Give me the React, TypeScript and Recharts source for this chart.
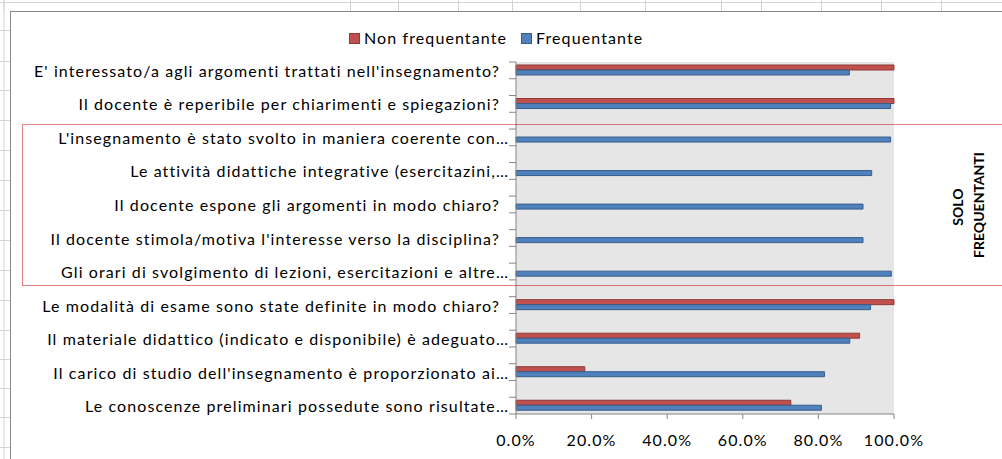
import { Bar, BarChart, CartesianGrid, XAxis, YAxis } from "recharts";

const questions = [
  "E' interessato/a agli argomenti trattati nell'insegnamento?",
  "Il docente è reperibile per chiarimenti e spiegazioni?",
  "L'insegnamento è stato svolto in maniera coerente con…",
  "Le attività didattiche integrative (esercitazini,…",
  "Il docente espone gli argomenti in modo chiaro?",
  "Il docente stimola/motiva l'interesse verso la disciplina?",
  "Gli orari di svolgimento di lezioni, esercitazioni e altre…",
  "Le modalità di esame sono state definite in modo chiaro?",
  "Il materiale didattico (indicato e disponibile) è adeguato…",
  "Il carico di studio dell'insegnamento è proporzionato ai…",
  "Le conoscenze preliminari possedute sono risultate…",
];

// null = domanda posta solo ai frequentanti
const nonFrequentante = [1, 1, null, null, null, null, null, 1, 0.909, 0.182, 0.727];
const frequentante = [0.882, 0.991, 0.991, 0.941, 0.918, 0.918, 0.993, 0.938, 0.883, 0.816, 0.808];

const xTicks = [0, 0.2, 0.4, 0.6, 0.8, 1];

const seriesNames = ["Non frequentante", "Frequentante"];
const seriesColors = ["#c0504d", "#4f81bd"];
const seriesStrokes = ["#8e3a37", "#385d8a"];

// Excel sheet has an empty row between each question
const rows: { key: string; label: string; nf: number | null; f: number | null }[] = [];
questions.forEach((q, i) => {
  rows.push({ key: `q${i}`, label: q, nf: nonFrequentante[i], f: frequentante[i] });
  if (i < questions.length - 1) rows.push({ key: `gap${i}`, label: "", nf: null, f: null });
});

const W = 1002;
const H = 459;
const X_H = 45;
const M = { top: 62, right: 108, bottom: 0, left: 0 };
const Y_W = 516;
const band = (H - M.top - M.bottom - X_H) / rows.length;
const AXIS = "#868686";
const SPACING = "1.1px";

const sheetCols = [4, 350.5, 398.5, 458.5, 512.5, 580.5, 645.5, 721.5, 761.5, 821.5, 881.5, 941.5];
const sheetRows = [2.5, 30.5, 61.5, 90.5, 120.5, 150.5, 180.5, 210.5, 240.5, 270.5, 300.5, 330.5, 359.5, 388.5, 417.5, 447.5];

function QuestionTick(props: any) {
  const { x, y, payload, index } = props;
  const row = rows.find((r) => r.key === payload.value);
  const label = row ? row.label : "";
  const last = index === rows.length - 1;
  return (
    <g>
      <line x1={x - 7} x2={x} y1={y - band / 2} y2={y - band / 2} stroke={AXIS} />
      {last && <line x1={x - 7} x2={x} y1={y + band / 2} y2={y + band / 2} stroke={AXIS} />}
      {label && (
        <text
          x={x - (label.endsWith("…") ? 7 : 16)}
          y={y}
          textAnchor="end"
          dominantBaseline="central"
          fontSize={16}
          letterSpacing={SPACING}
          fill="#000"
        >
          {label}
        </text>
      )}
    </g>
  );
}

export default function App() {
  return (
    <div
      style={{
        position: "absolute",
        left: 0,
        top: 0,
        width: W,
        height: H,
        overflow: "hidden",
        background: "#fff",
        fontFamily: "Lato, sans-serif",
      }}
    >
      <svg width={W} height={H} style={{ position: "absolute", left: 0, top: 0 }}>
        {sheetCols.map((cx) => (
          <line key={`c${cx}`} x1={cx} x2={cx} y1={0} y2={11} stroke="#d4d4d4" />
        ))}
        <line x1={4} x2={4} y1={0} y2={H} stroke="#d4d4d4" />
        {sheetRows.map((ry) => (
          <line key={`r${ry}`} x1={0} x2={10} y1={ry} y2={ry} stroke="#d4d4d4" />
        ))}
        <line x1={0} x2={W} y1={2.5} y2={2.5} stroke="#d4d4d4" />
        <rect x={10.5} y={11.5} width={W} height={H} fill="#fff" stroke="#888" />
      </svg>

      <div style={{ position: "absolute", left: 0, top: 0 }}>
        <BarChart
          width={W}
          height={H}
          data={rows}
          layout="vertical"
          margin={M}
          barSize={5}
          barGap={0}
        >
          <CartesianGrid fill="#e6e6e6" horizontal={false} vertical={false} />
          <XAxis
            type="number"
            domain={[0, 1]}
            ticks={xTicks}
            tickFormatter={(v: number) => `${(v * 100).toFixed(1)}%`}
            axisLine={{ stroke: AXIS }}
            tickLine={{ stroke: AXIS }}
            tickSize={5}
            tickMargin={16}
            tick={{ fill: "#000", fontSize: 16, letterSpacing: SPACING }}
            height={X_H}
          />
          <XAxis
            xAxisId="top"
            orientation="top"
            type="number"
            domain={[0, 1]}
            tick={false}
            tickLine={false}
            axisLine={{ stroke: AXIS }}
            height={0}
          />
          <YAxis
            type="category"
            dataKey="key"
            width={Y_W}
            interval={0}
            tickLine={false}
            tickSize={0}
            tickMargin={0}
            axisLine={{ stroke: AXIS }}
            tick={<QuestionTick />}
          />
          <YAxis
            yAxisId="right"
            orientation="right"
            type="category"
            dataKey="key"
            width={0}
            tick={false}
            tickLine={false}
            axisLine={{ stroke: AXIS }}
          />
          <Bar
            dataKey="nf"
            name={seriesNames[0]}
            fill={seriesColors[0]}
            stroke={seriesStrokes[0]}
            isAnimationActive={false}
          />
          <Bar
            dataKey="f"
            name={seriesNames[1]}
            fill={seriesColors[1]}
            stroke={seriesStrokes[1]}
            isAnimationActive={false}
          />
        </BarChart>
      </div>

      <svg
        width={W}
        height={H}
        style={{ position: "absolute", left: 0, top: 0, pointerEvents: "none" }}
      >
        <rect
          x={22.5}
          y={124.5}
          width={1000}
          height={161}
          fill="none"
          stroke="#c00000"
          strokeDasharray="1 1"
        />
        <g fontWeight="bold" fontSize={14} fill="#000" textAnchor="middle">
          <text x={957.5} y={207} transform="rotate(-90 957.5 207)" dominantBaseline="central">
            SOLO
          </text>
          <text x={978.5} y={205} transform="rotate(-90 978.5 205)" dominantBaseline="central">
            FREQUENTANTI
          </text>
        </g>
      </svg>

      <div
        style={{
          position: "absolute",
          left: 349,
          top: 28,
          display: "flex",
          alignItems: "center",
          fontSize: 16,
          letterSpacing: SPACING,
          color: "#000",
          lineHeight: "20px",
        }}
      >
        {seriesNames.map((n, i) => (
          <div key={n} style={{ display: "flex", alignItems: "center", marginRight: 14 }}>
            <span
              style={{
                display: "inline-block",
                width: 11,
                height: 11,
                background: seriesColors[i],
                border: `1px solid ${seriesStrokes[i]}`,
                boxSizing: "border-box",
                marginRight: 4,
              }}
            />
            <span>{n}</span>
          </div>
        ))}
      </div>
    </div>
  );
}
